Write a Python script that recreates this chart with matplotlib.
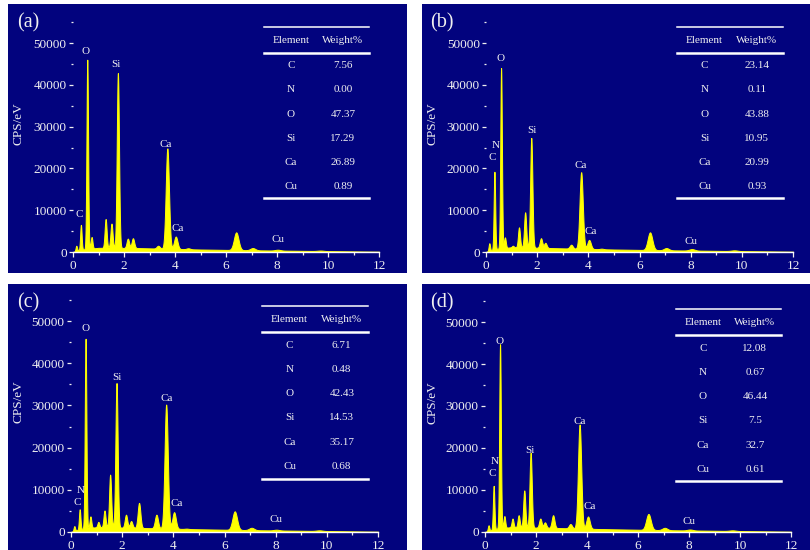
import numpy as np
import matplotlib
matplotlib.use("Agg")
import matplotlib.pyplot as plt
from matplotlib.patches import Rectangle
from matplotlib.ticker import MultipleLocator

plt.rcParams["font.family"] = ["Liberation Serif", "DejaVu Serif"]

# ---- spectrum data: peak energies (keV) and apex counts (CPS/eV) ----
peak_e_a = [0.13, 0.31, 0.56, 0.73, 1.28, 1.51, 1.76, 2.15, 2.35, 3.34, 3.70, 4.03, 4.52, 6.40, 7.05, 8.03, 9.71]
peak_h_a = [1500, 6500, 46000, 3600, 7900, 6800, 42800, 3200, 3300, 1500, 24800, 3700, 900, 4700, 950, 550, 350]

peak_e_b = [0.13, 0.33, 0.59, 0.74, 1.05, 1.29, 1.53, 1.77, 2.15, 2.32, 3.33, 3.72, 4.03, 4.52, 6.41, 7.05, 8.05, 9.71]
peak_h_b = [2100, 19200, 44000, 3500, 1500, 5900, 9500, 27300, 3300, 2200, 1750, 19100, 2900, 800, 4700, 950, 700, 400]

peak_e_c = [0.13, 0.34, 0.57, 0.76, 1.07, 1.31, 1.53, 1.78, 2.15, 2.35, 2.66, 3.34, 3.72, 4.03, 4.52, 6.40, 7.06, 8.03, 9.71]
peak_h_c = [1400, 5400, 45800, 3700, 2400, 5100, 13600, 35300, 4100, 2600, 6900, 4100, 30200, 4700, 800, 4900, 1000, 550, 400]

peak_e_d = [0.14, 0.34, 0.59, 0.76, 1.08, 1.32, 1.54, 1.79, 2.17, 2.35, 2.67, 3.35, 3.71, 4.04, 4.52, 6.41, 7.05, 8.04, 9.71]
peak_h_d = [1600, 11000, 44700, 3800, 3200, 4000, 9900, 18900, 3200, 2300, 4000, 1900, 25600, 3700, 700, 4300, 1000, 600, 400]

# continuum (bremsstrahlung) background
bg_e = [0.0, 0.08, 0.2, 0.5, 1.0, 1.5, 2.5, 3.5, 5.0, 7.0, 9.0, 12.0]
bg_a = [0, 200, 400, 700, 1000, 1000, 950, 800, 600, 420, 280, 80]
bg_b = [0, 200, 400, 800, 1150, 1100, 950, 800, 600, 420, 280, 80]
bg_c = [0, 200, 400, 800, 1150, 1100, 1000, 850, 650, 450, 300, 80]
bg_d = [0, 200, 400, 800, 1150, 1100, 1000, 850, 650, 450, 300, 80]

# ---- composition tables ----
elements = ["C", "N", "O", "Si", "Ca", "Cu"]
weight_a = ["7.56", "0.00", "47.37", "17.29", "26.89", "0.89"]
weight_b = ["23.14", "0.11", "43.88", "10.95", "20.99", "0.93"]
weight_c = ["6.71", "0.48", "42.43", "14.53", "35.17", "0.68"]
weight_d = ["12.08", "0.67", "46.44", "7.5", "32.7", "0.61"]

panel_tags = ["(a)", "(b)", "(c)", "(d)"]

# peak label annotations: (text, energy, counts)
labels_a = [("O", 0.50, 47900), ("Si", 1.67, 44900), ("C", 0.25, 8900),
            ("Ca", 3.64, 25800), ("Ca", 4.10, 5700), ("Cu", 8.02, 2900)]
labels_b = [("O", 0.55, 46300), ("N", 0.38, 25400), ("C", 0.26, 22650),
            ("Si", 1.79, 29000), ("Ca", 3.72, 20700), ("Ca", 4.10, 5000), ("Cu", 8.02, 2550)]
labels_c = [("O", 0.57, 48300), ("Si", 1.78, 36500), ("Ca", 3.73, 31750),
            ("N", 0.37, 9950), ("C", 0.23, 7100), ("Ca", 4.13, 6800), ("Cu", 8.00, 2900)]
labels_d = [("O", 0.56, 45400), ("Ca", 3.73, 26300), ("Si", 1.78, 19400),
            ("N", 0.37, 16900), ("C", 0.29, 13900), ("Ca", 4.09, 6000), ("Cu", 8.01, 2400)]

BG = "#02037e"
YEL = "#ffff00"
WHITE = "#f0f0f0"
W, H = 810, 550

fig = plt.figure(figsize=(W / 100, H / 100), dpi=100)
fig.patch.set_facecolor("white")

# panel rectangles (pixels: x0, y0_top, x1, y1_top)
panels = [(8, 4, 407, 273), (422, 4, 810, 273), (8, 284, 407, 550), (422, 284, 810, 550)]
# axes boxes (pixels: left, right, y of zero line, px per 10000 counts)
boxes = [(73, 379, 252, 41.8), (486, 793, 252, 41.8), (71, 378, 532, 42.2), (485, 791, 532, 42.0)]
YTOP = 57000

specs = [(peak_e_a, peak_h_a, bg_a, weight_a, labels_a),
         (peak_e_b, peak_h_b, bg_b, weight_b, labels_b),
         (peak_e_c, peak_h_c, bg_c, weight_c, labels_c),
         (peak_e_d, peak_h_d, bg_d, weight_d, labels_d)]
table_dy = [0.0, 0.0, -0.004, -0.014]

energy = np.linspace(0, 12, 4801)

for i, ((pe, ph, bg, wt, labs), (px0, py0, px1, py1), (l, r, y0, s)) in enumerate(zip(specs, panels, boxes)):
    fig.patches.append(Rectangle((px0 / W, 1 - py1 / H), (px1 - px0) / W, (py1 - py0) / H,
                                 transform=fig.transFigure, facecolor=BG, edgecolor="none", zorder=-5))
    h = YTOP / 10000 * s
    ax = fig.add_axes([l / W, 1 - y0 / H, (r - l) / W, h / H])
    ax.set_facecolor("none")

    base = np.interp(energy, bg_e, bg)
    counts = base.copy()
    for e0, top in zip(pe, ph):
        sig = 0.026 + 0.010 * e0   # detector resolution broadens with energy
        amp = top - np.interp(e0, bg_e, bg)
        counts += amp * np.exp(-0.5 * ((energy - e0) / sig) ** 2)
    ax.fill_between(energy, 0, counts, color=YEL, lw=0.7, zorder=2)

    ax.set_xlim(0, 12)
    ax.set_ylim(0, YTOP)
    for sp in ("top", "right", "left"):
        ax.spines[sp].set_visible(False)
    ax.spines["bottom"].set_color("white")
    ax.spines["bottom"].set_linewidth(1.0)
    ax.spines["bottom"].set_zorder(3)
    ax.xaxis.set_major_locator(MultipleLocator(2))
    ax.xaxis.set_minor_locator(MultipleLocator(1))
    ax.set_yticks([0, 10000, 20000, 30000, 40000, 50000])
    ax.yaxis.set_minor_locator(MultipleLocator(5000))
    ax.tick_params(axis="both", which="major", colors=WHITE, labelsize=9.5, length=3, width=0.9, pad=1.5)
    ax.tick_params(axis="both", which="minor", colors=WHITE, length=1.5, width=0.9)
    ax.tick_params(axis="x", which="major", length=3.5, pad=2)
    ax.tick_params(axis="x", which="minor", length=2.5)
    ax.set_ylabel("CPS/eV", color=WHITE, fontsize=9.5, labelpad=2)
    ax.yaxis.set_label_coords((px0 + 17 - l) / (r - l), 0.54)

    for txt, xe, yc in labs:
        ax.text(xe, yc, txt, ha="center", va="center", fontsize=8, color=WHITE, zorder=4)

    ax.text((px0 + 20 - l) / (r - l), (y0 - (py0 + 19)) / h, panel_tags[i], transform=ax.transAxes,
            ha="center", va="center", fontsize=14.5, color=WHITE)

    # composition table
    dy = table_dy[i]
    tx0, tx1 = 0.623, 0.968
    ax.plot([tx0, tx1], [0.945 + dy] * 2, transform=ax.transAxes, color="white", lw=1.1, clip_on=False)
    ax.plot([tx0, tx1], [0.837 + dy] * 2, transform=ax.transAxes, color="white", lw=1.8, clip_on=False)
    ax.plot([tx0, tx1], [0.226 + dy] * 2, transform=ax.transAxes, color="white", lw=1.8, clip_on=False)
    cx1, cx2 = 0.712, 0.882
    ax.text(cx1, 0.889 + dy, "Element", transform=ax.transAxes, ha="center", va="center", fontsize=8, color=WHITE)
    ax.text(cx2, 0.889 + dy, "Weight%", transform=ax.transAxes, ha="center", va="center", fontsize=8, color=WHITE)
    rows = np.linspace(0.781, 0.276, len(elements))
    for el, w, yr in zip(elements, wt, rows):
        ax.text(cx1, yr + dy, el, transform=ax.transAxes, ha="center", va="center", fontsize=8, color=WHITE)
        ax.text(cx2, yr + dy, w, transform=ax.transAxes, ha="center", va="center", fontsize=8, color=WHITE)

fig.savefig("out.png", dpi=100, facecolor="white")
